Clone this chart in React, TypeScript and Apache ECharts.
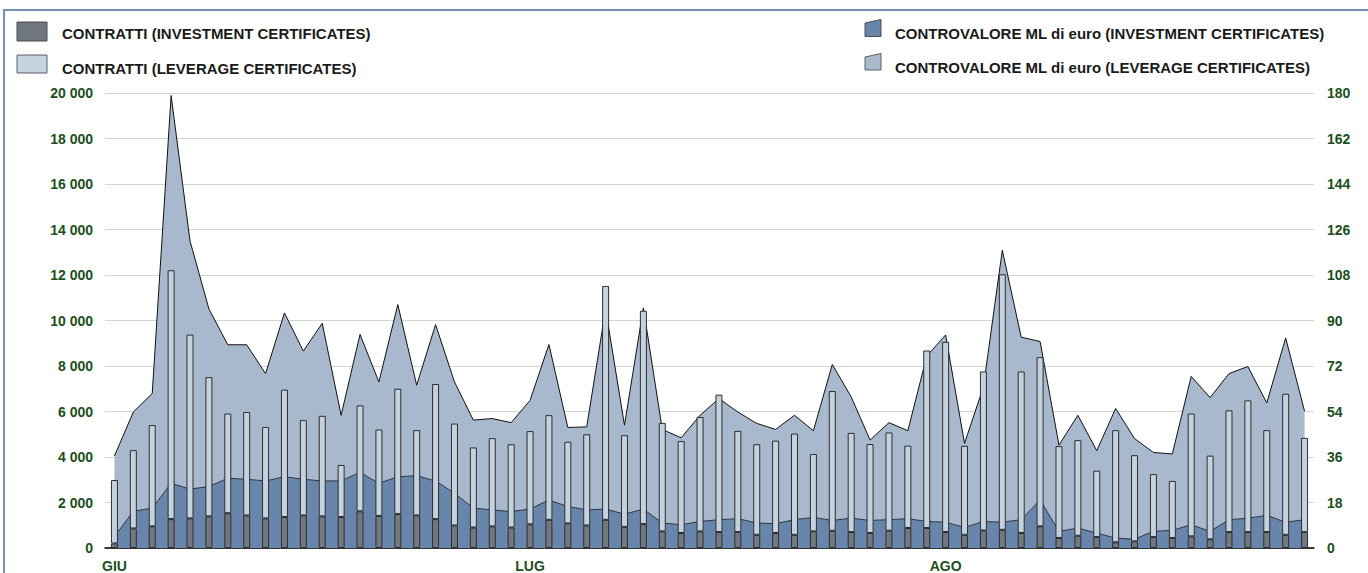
import React, { useEffect, useRef } from "react";
import * as echarts from "echarts";

// month labels placed at the first trading day of each month
const monthStarts: Record<number, string> = { 0: "GIU", 22: "LUG", 44: "AGO" };
const dayCount = 64;
const days: string[] = Array.from({ length: dayCount }, (_, i) => String(i + 1));

// CONTRATTI (number of trades) - left axis
const contrattiInvestment = [
  200, 860, 950, 1270, 1300, 1390, 1530, 1430, 1300, 1360, 1430, 1390, 1360, 1610, 1410, 1490,
  1430, 1270, 990, 900, 950, 900, 1040, 1240, 1080, 990, 1240, 930, 1050, 730, 660, 730,
  700, 700, 580, 660, 580, 730, 760, 700, 660, 760, 880, 880, 700, 580, 770, 800,
  660, 950, 440, 540, 480, 250, 290, 480, 440, 510, 380, 700, 700, 700, 580, 700,
];
const contrattiLeverage = [
  2790, 3440, 4450, 10940, 8080, 6120, 4380, 4550, 4020, 5600, 4190, 4420, 2290, 4660, 3800, 5510,
  3750, 5940, 4480, 3520, 3880, 3660, 4100, 4600, 3590, 4010, 10280, 4030, 9380, 4770, 4040, 5030,
  6040, 4450, 3980, 4060, 4450, 3400, 6140, 4360, 3910, 4320, 3620, 7800, 8360, 3910, 6990, 11230,
  7100, 7440, 4040, 4200, 2920, 4930, 3790, 2770, 2510, 5400, 3680, 5350, 5790, 4480, 6200, 4140,
];

// CONTROVALORE ML di euro - right axis (stacked areas)
const controvaloreInvestment = [
  4.6, 14.5, 15.8, 25.6, 23.3, 24.3, 27.6, 27.2, 26.5, 28.2, 27.2, 26.5, 26.6, 29.9, 25.6, 28.2,
  28.6, 26.5, 21.7, 15.8, 15.1, 14.4, 15.4, 19.0, 16.4, 15.1, 15.4, 13.4, 15.4, 9.9, 9.2, 10.5,
  11.2, 11.6, 9.9, 9.6, 11.2, 12.1, 10.9, 11.8, 10.9, 11.2, 11.6, 10.5, 10.2, 8.1, 10.5, 10.2,
  11.2, 19.0, 6.6, 7.9, 5.9, 3.9, 3.5, 6.6, 7.0, 9.2, 6.6, 11.2, 11.8, 12.9, 10.2, 11.2,
];
const controvaloreLeverage = [
  31.8, 39.3, 45.3, 153.4, 98.2, 70.3, 52.8, 53.2, 42.5, 64.8, 50.7, 62.4, 25.9, 54.6, 40.1, 68.1,
  35.8, 61.9, 44.0, 34.8, 36.1, 35.2, 43.0, 61.5, 31.3, 32.8, 79.1, 35.2, 79.6, 37.0, 34.4, 42.0,
  47.9, 42.2, 39.4, 37.3, 41.3, 34.3, 61.7, 48.0, 31.8, 38.4, 34.8, 65.4, 74.1, 33.3, 53.2, 107.6,
  72.2, 62.7, 34.1, 44.6, 32.6, 51.3, 39.8, 31.2, 30.2, 58.7, 52.9, 57.8, 60.0, 44.5, 72.9, 42.9,
];

const leftTicks = { min: 0, max: 20000, interval: 2000 };
const rightTicks = { min: 0, max: 180, interval: 18 };

const FONT = "'Liberation Sans', Arial, Helvetica, sans-serif";
const GREEN = "#1c4f1c";

export default function App() {
  const ref = useRef<HTMLDivElement>(null);
  useEffect(() => {
    if (!ref.current) return;
    const chart = echarts.init(ref.current, null, { renderer: "svg" });
    const legendText = (x: number, y: number, text: string) => ({
      type: "text",
      x,
      y,
      style: {
        text,
        fill: "#1a1a1a",
        font: `bold 15px ${FONT}`,
        textVerticalAlign: "middle",
      },
    });
    chart.setOption({
      animation: false,
      backgroundColor: "#ffffff",
      textStyle: { fontFamily: FONT },
      grid: { left: 105, right: 54, top: 93, bottom: 23, containLabel: false },
      legend: { show: false },
      xAxis: {
        type: "category",
        data: days,
        boundaryGap: true,
        axisLine: { lineStyle: { color: "#000", width: 1.5 } },
        axisTick: { show: false },
        splitLine: { show: false },
        axisLabel: {
          interval: 0,
          margin: 11,
          color: GREEN,
          fontWeight: "bold",
          fontSize: 14,
          fontFamily: FONT,
          formatter: (_v: string, i: number) => monthStarts[i] ?? "",
        },
      },
      yAxis: [
        {
          type: "value",
          ...leftTicks,
          position: "left",
          axisLine: { show: false },
          axisTick: { show: false },
          splitLine: { lineStyle: { color: "#d4d4d4", width: 1 } },
          axisLabel: {
            margin: 12,
            color: GREEN,
            fontWeight: "bold",
            fontSize: 14,
            fontFamily: FONT,
            formatter: (v: number) => String(v).replace(/\B(?=(\d{3})+(?!\d))/g, " "),
          },
        },
        {
          type: "value",
          ...rightTicks,
          position: "right",
          axisLine: { show: false },
          axisTick: { show: false },
          splitLine: { show: false },
          axisLabel: {
            margin: 13,
            color: GREEN,
            fontWeight: "bold",
            fontSize: 14,
            fontFamily: FONT,
          },
        },
      ],
      series: [
        {
          name: "CONTROVALORE ML di euro (INVESTMENT CERTIFICATES)",
          type: "line",
          yAxisIndex: 1,
          stack: "cv",
          data: controvaloreInvestment,
          symbol: "none",
          lineStyle: { color: "#2b3340", width: 1 },
          areaStyle: { color: "#6886ab", opacity: 1 },
          z: 1,
        },
        {
          name: "CONTROVALORE ML di euro (LEVERAGE CERTIFICATES)",
          type: "line",
          yAxisIndex: 1,
          stack: "cv",
          data: controvaloreLeverage,
          symbol: "none",
          lineStyle: { color: "#111", width: 1 },
          areaStyle: { color: "#a8b9ce", opacity: 1 },
          z: 1,
        },
        {
          name: "CONTRATTI (INVESTMENT CERTIFICATES)",
          type: "bar",
          yAxisIndex: 0,
          stack: "contratti",
          data: contrattiInvestment,
          barWidth: 7,
          itemStyle: { color: "#727880", borderColor: "#2e2e2e", borderWidth: 1 },
          z: 3,
        },
        {
          name: "CONTRATTI (LEVERAGE CERTIFICATES)",
          type: "bar",
          yAxisIndex: 0,
          stack: "contratti",
          data: contrattiLeverage,
          barWidth: 7,
          itemStyle: { color: "#c4d2df", borderColor: "#2e2e2e", borderWidth: 1 },
          z: 3,
        },
      ],
      graphic: [
        {
          type: "rect",
          shape: { x: 4, y: 10, width: 1400, height: 620 },
          style: { fill: "none", stroke: "#7491b3", lineWidth: 2 },
          silent: true,
        },
        {
          type: "rect",
          shape: { x: 17, y: 22, width: 30, height: 19 },
          style: { fill: "#6f767e", stroke: "#4a4f55", lineWidth: 1 },
        },
        legendText(62, 33, "CONTRATTI (INVESTMENT CERTIFICATES)"),
        {
          type: "rect",
          shape: { x: 17, y: 55, width: 30, height: 18 },
          style: { fill: "#c6d3e0", stroke: "#5a6068", lineWidth: 1 },
        },
        legendText(62, 68, "CONTRATTI (LEVERAGE CERTIFICATES)"),
        {
          type: "polygon",
          shape: { points: [[865, 23], [881, 19.5], [881, 36.5], [865, 36.5]] },
          style: { fill: "#6886ab", stroke: "#4a4f55", lineWidth: 1 },
        },
        legendText(895, 33, "CONTROVALORE ML di euro (INVESTMENT CERTIFICATES)"),
        {
          type: "polygon",
          shape: { points: [[865, 57], [881, 53.5], [881, 70], [865, 70]] },
          style: { fill: "#a8b9ce", stroke: "#5a6068", lineWidth: 1 },
        },
        legendText(895, 67, "CONTROVALORE ML di euro (LEVERAGE CERTIFICATES)"),
      ],
    });
    return () => chart.dispose();
  }, []);
  return (
    <div
      ref={ref}
      style={{ position: "fixed", left: 0, top: 0, width: 1368, height: 573 }}
    />
  );
}
